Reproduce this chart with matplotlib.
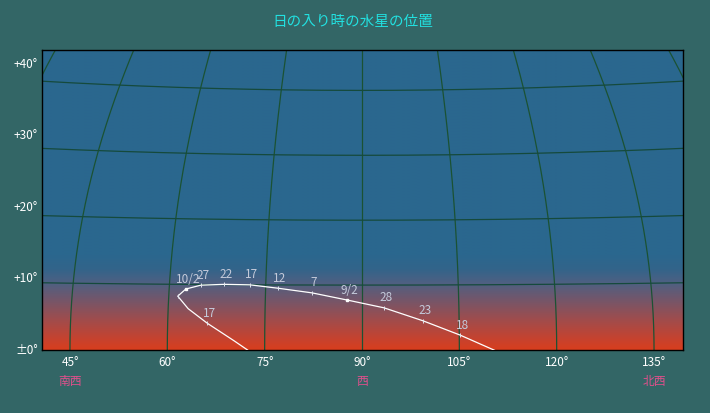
import numpy as np
import matplotlib
matplotlib.use('Agg')
import matplotlib.pyplot as plt

# ---------------- data ----------------
dates = ['8/13', '8/18', '8/23', '8/28', '9/2', '9/7', '9/12', '9/17', '9/22',
         '9/27', '10/2', '10/7', '10/12', '10/17', '10/22', '10/27']
date_labels = ['', '18', '23', '28', '9/2', '7', '12', '17', '22',
               '27', '10/2', '', '', '17', '', '']
azimuth = [111.0, 105.1, 99.4, 93.4, 87.7, 82.2, 76.9, 72.5, 68.5,
           64.9, 62.6, 61.4, 63.1, 66.1, 70.3, 75.0]
altitude = [-0.3, 2.3, 4.5, 6.5, 7.7, 8.8, 9.5, 10.0, 10.05,
            9.9, 9.3, 8.2, 6.3, 4.1, 1.4, -1.8]
month_starts = ['9/2', '10/2']
unlabeled_ticks = ['10/7']

az_ticks = [45, 60, 75, 90, 105, 120, 135]
az_tick_labels = ['45°', '60°', '75°', '90°', '105°', '120°', '135°']
alt_ticks = [0, 10, 20, 30, 40]
alt_tick_labels = ['±0°', '+10°', '+20°', '+30°', '+40°']
dir_az = [45, 90, 135]
dir_names = ['南西', '西', '北西']
grid_az = [30, 45, 60, 75, 90, 105, 120, 135, 150]
grid_alt = [10, 20, 30, 40]
title = '日の入り時の水星の位置'

# ---------------- projection ----------------
def proj(a, h):
    a = np.asarray(a, float)
    h = np.asarray(h, float)
    X = 90 + (a - 90) * np.cos(np.radians(0.85 * h))
    Y = h * (1 + 0.035 * ((X - 90) / 49.0) ** 2)
    return X, Y

plt.rcParams['font.family'] = ['Noto Sans CJK JP', 'DejaVu Sans']
BG = '#336666'
W, H = 710, 413
fig = plt.figure(figsize=(W / 100, H / 100), dpi=100, facecolor=BG)
ax = fig.add_axes([42 / W, 63 / H, 641 / W, 300 / H])
xmin, xmax = 90 - 320 / 6.49, 90 + 321 / 6.49
ymax = 300 / 6.49
ax.set_xlim(xmin, xmax)
ax.set_ylim(0, ymax)
ax.set_xticks([])
ax.set_yticks([])
for s in ax.spines.values():
    s.set_color('black')
    s.set_linewidth(1.0)

# sky gradient
stops_y = [0, 1.5, 4.6, 7.7, 10.3, 12.5, 14.5, ymax]
stops_c = [(216, 62, 30), (200, 66, 45), (160, 76, 76), (116, 86, 106),
           (78, 96, 130), (50, 100, 138), (43, 103, 142), (42, 103, 142)]
yy = np.linspace(0, ymax, 400)
cols = np.array(stops_c, float) / 255.0
img = np.stack([np.interp(yy, stops_y, cols[:, k]) for k in range(3)], axis=1)
img = img[:, None, :]
ax.imshow(img, extent=[xmin, xmax, 0, ymax], origin='lower', aspect='auto',
          interpolation='bilinear', zorder=0)

# grid
hh = np.linspace(0, 60, 300)
for a in grid_az:
    X, Y = proj(np.full_like(hh, a), hh)
    ax.plot(X, Y, color='#1b5233', lw=0.9, zorder=1)
aa = np.linspace(20, 160, 400)
for h in grid_alt:
    X, Y = proj(aa, np.full_like(aa, h))
    ax.plot(X, Y, color='#154a3c', lw=0.9, zorder=1)

# Mercury track
X, Y = proj(azimuth, altitude)
ax.plot(X, Y, color='white', lw=0.9, zorder=3)
for d, lab, x, y in zip(dates, date_labels, X, Y):
    if not (xmin < x < xmax and 0 < y < ymax):
        continue
    if d in month_starts:
        ax.plot([x], [y], marker='s', ms=2.0, color='white', mec='white', zorder=4)
    elif lab or d in unlabeled_ticks:
        ax.plot([x], [y], marker='|', ms=3.5, mew=0.7, color='#e0e4ee', zorder=4)
    if lab:
        ax.annotate(lab, (x, y), xytext=(1.5, 2.5), textcoords='offset points',
                    ha='center', va='bottom', color='#c4cada', fontsize=8.5,
                    zorder=5)

# axis labels
for a, t in zip(az_ticks, az_tick_labels):
    ax.text(a, -12 / 300, t, transform=ax.get_xaxis_transform(), ha='center',
            va='center', color='white', fontsize=8.5, clip_on=False)
for a, t in zip(dir_az, dir_names):
    ax.text(a, -32 / 300, t, transform=ax.get_xaxis_transform(), ha='center',
            va='center', color='#e0508c', fontsize=8.5, clip_on=False)
for h, t in zip(alt_ticks, alt_tick_labels):
    ypix = 350 - h * 1.1 * 6.49
    fig.text(38 / W, 1 - ypix / H, t, ha='right', va='center', color='white',
             fontsize=8.5)

fig.text(353 / W, 1 - 22 / H, title, ha='center', va='center', color='#22e0e0',
         fontsize=10.5)

fig.savefig('out.png', dpi=100, facecolor=BG)
